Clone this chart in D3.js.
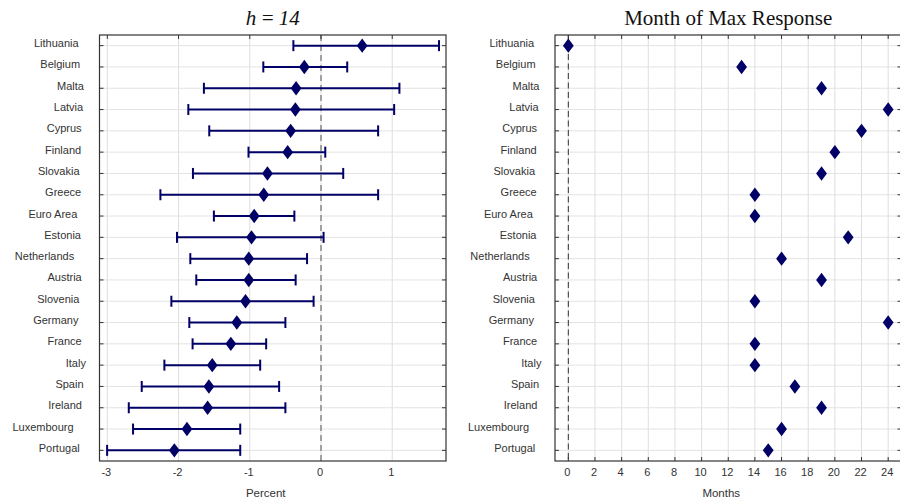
<!DOCTYPE html>
<html><head><meta charset="utf-8">
<script src="https://cdn.jsdelivr.net/npm/d3@7"></script>
<style>body{margin:0;background:#fff}</style>
</head><body>
<script>
const countries = ["Lithuania","Belgium","Malta","Latvia","Cyprus","Finland","Slovakia","Greece","Euro Area","Estonia","Netherlands","Austria","Slovenia","Germany","France","Italy","Spain","Ireland","Luxembourg","Portugal"];
const estimate = [0.578,-0.234,-0.35,-0.36,-0.426,-0.468,-0.752,-0.804,-0.938,-0.976,-1.014,-1.014,-1.06,-1.182,-1.266,-1.527,-1.574,-1.592,-1.882,-2.059];
const lower = [-0.388,-0.81,-1.644,-1.863,-1.569,-1.018,-1.798,-2.255,-1.504,-2.022,-1.835,-1.751,-2.101,-1.849,-1.803,-2.199,-2.517,-2.699,-2.639,-3.003];
const upper = [1.657,0.368,1.101,1.027,0.802,0.06,0.312,0.802,-0.374,0.036,-0.196,-0.356,-0.104,-0.5,-0.77,-0.854,-0.588,-0.5,-1.134,-1.134];
const maxMonth = [0,13,19,24,22,20,19,14,14,21,16,19,14,24,14,14,17,19,16,15];
const pctTicks = [-3,-2,-1,0,1];
const monthTicks = [0,2,4,6,8,10,12,14,16,18,20,22,24];

const W=900,H=500;
const svg=d3.select("body").append("svg").attr("width",W).attr("height",H);
const navy="#000066";
const plotTop=35,plotBottom=461;
const y=d3.scalePoint().domain(countries).range([plotTop,plotBottom]).padding(0.5);

function panel(x0,x1,domain,ticks,title,titleItalic,xlabel,opts){
  const x=d3.scaleLinear().domain(domain).range([x0,x1]);
  const g=svg.append("g");
  g.selectAll(".vg").data(ticks).join("line")
    .attr("x1",d=>x(d)).attr("x2",d=>x(d)).attr("y1",plotTop).attr("y2",plotBottom)
    .attr("stroke","#dedede").attr("stroke-width",1);
  g.selectAll(".hg").data(countries).join("line")
    .attr("x1",x0).attr("x2",x1).attr("y1",d=>y(d)).attr("y2",d=>y(d))
    .attr("stroke","#e3e3e3").attr("stroke-width",1);
  g.append("line").attr("x1",x(0)).attr("x2",x(0)).attr("y1",plotTop).attr("y2",plotBottom)
    .attr("stroke",opts.dashColor).attr("stroke-width",opts.dashWidth).attr("stroke-dasharray",opts.dash);
  g.selectAll(".tt").data(ticks).join("line")
    .attr("x1",d=>x(d)).attr("x2",d=>x(d)).attr("y1",plotTop).attr("y2",plotTop+4)
    .attr("stroke","#333").attr("stroke-width",1);
  if(opts.bottomTicks){
    g.selectAll(".bt").data(ticks).join("line")
      .attr("x1",d=>x(d)).attr("x2",d=>x(d)).attr("y1",plotBottom).attr("y2",plotBottom-4)
      .attr("stroke","#333").attr("stroke-width",1);
  }
  g.selectAll(".lt").data(countries).join("line")
    .attr("x1",x0).attr("x2",x0+4).attr("y1",d=>y(d)).attr("y2",d=>y(d))
    .attr("stroke","#333").attr("stroke-width",1);
  g.selectAll(".rt").data(countries).join("line")
    .attr("x1",x1).attr("x2",x1-4).attr("y1",d=>y(d)).attr("y2",d=>y(d))
    .attr("stroke","#333").attr("stroke-width",1);
  g.append("rect").attr("x",x0).attr("y",plotTop).attr("width",x1-x0).attr("height",plotBottom-plotTop)
    .attr("fill","none").attr("stroke","#333").attr("stroke-width",1.2);
  g.selectAll(".yl").data(countries).join("text")
    .attr("x",x0-7.5).attr("y",d=>y(d)+1.5)
    .attr("text-anchor","end").attr("font-family","'Liberation Sans',Arial,sans-serif")
    .attr("font-size",11).attr("fill","#333").text(d=>d)
    .each(function(){const w=this.getComputedTextLength();d3.select(this).attr("dx",-0.3*w);});
  g.selectAll(".xl").data(ticks).join("text")
    .attr("x",d=>x(d)-1).attr("y",476)
    .attr("text-anchor","middle").attr("font-family","'Liberation Sans',Arial,sans-serif")
    .attr("font-size",11).attr("fill","#333").text(d=>String(d));
  g.append("text").attr("x",(x0+x1)/2-7).attr("y",497)
    .attr("text-anchor","middle").attr("font-family","'Liberation Sans',Arial,sans-serif")
    .attr("font-size",11.5).attr("fill","#333").text(xlabel);
  g.append("text").attr("x",(x0+x1)/2).attr("y",24.5)
    .attr("text-anchor","middle").attr("font-family","'Liberation Serif','DejaVu Serif',serif")
    .attr("font-style",titleItalic?"italic":"normal")
    .attr("font-size",21).attr("fill","#111").text(title);
  return {x,g};
}

function diamond(g,cx,cy){
  g.append("path").attr("d",`M${cx},${cy-7.2}L${cx+5.4},${cy}L${cx},${cy+7.2}L${cx-5.4},${cy}Z`).attr("fill",navy);
}

const L=panel(99.5,446,[-3.11,1.755],pctTicks,"h\u2009=\u200914",true,"Percent",
  {dashColor:"#888",dashWidth:1.5,dash:"6,4",bottomTicks:false});
countries.forEach((c,i)=>{
  const cy=y(c);
  L.g.append("line").attr("x1",L.x(lower[i])).attr("x2",L.x(upper[i])).attr("y1",cy).attr("y2",cy)
    .attr("stroke",navy).attr("stroke-width",2);
  [lower[i],upper[i]].forEach(v=>{
    L.g.append("line").attr("x1",L.x(v)).attr("x2",L.x(v)).attr("y1",cy-5.5).attr("y2",cy+5.5)
      .attr("stroke",navy).attr("stroke-width",2);
  });
  diamond(L.g,L.x(estimate[i]),cy);
});

const R=panel(555,901.5,[-1,25],monthTicks,"Month of Max Response",false,"Months",
  {dashColor:"#333",dashWidth:1,dash:"6,3.5",bottomTicks:true});
countries.forEach((c,i)=>{ diamond(R.g,R.x(maxMonth[i]),y(c)); });
</script>
</body></html>
